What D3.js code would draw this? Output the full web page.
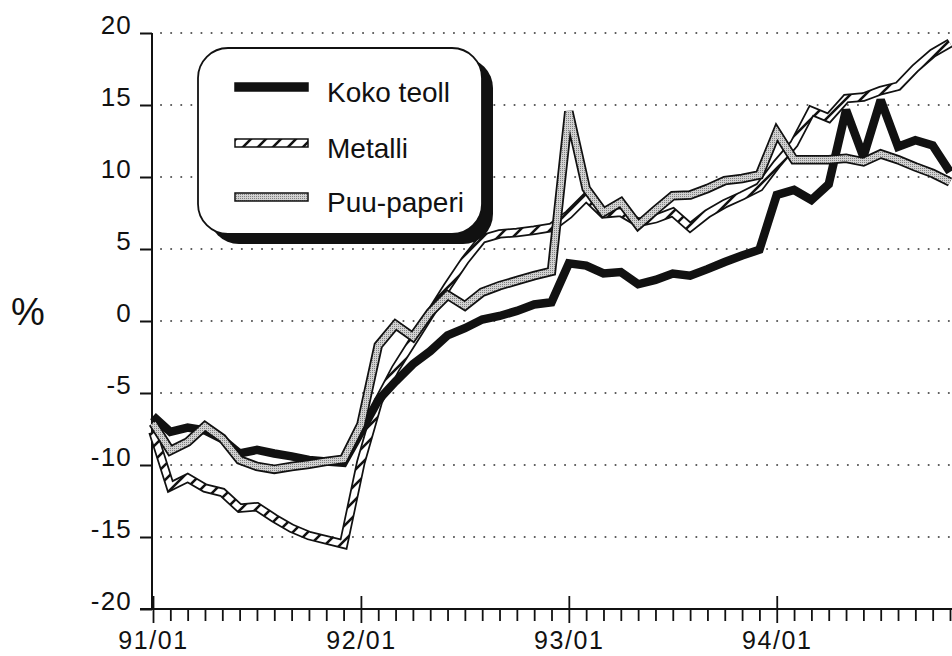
<!DOCTYPE html>
<html><head><meta charset="utf-8">
<script src="https://cdn.jsdelivr.net/npm/d3@7"></script>
<style>
html,body{margin:0;padding:0;background:#fff;}
svg{display:block;}
text{font-family:"Liberation Sans",Arial,Helvetica,sans-serif;fill:#111;}
</style></head><body>
<svg id="chart" width="952" height="656"></svg>
<script>
const months = ["91/01","91/02","91/03","91/04","91/05","91/06","91/07","91/08","91/09","91/10","91/11","91/12",
"92/01","92/02","92/03","92/04","92/05","92/06","92/07","92/08","92/09","92/10","92/11","92/12",
"93/01","93/02","93/03","93/04","93/05","93/06","93/07","93/08","93/09","93/10","93/11","93/12",
"94/01","94/02","94/03","94/04","94/05","94/06","94/07","94/08","94/09","94/10","94/11"];
const tickLabels = ["91/01","92/01","93/01","94/01"];
const yTicks = [-20,-15,-10,-5,0,5,10,15,20];
const seriesNames = ["Koko teoll","Metalli","Puu-paperi"];

const kokoTeoll = [-6.6,-7.7,-7.4,-7.6,-8.2,-9.2,-8.95,-9.2,-9.4,-9.65,-9.75,-9.85,
-7.7,-5.5,-4.2,-3.0,-2.1,-1.0,-0.5,0.1,0.35,0.7,1.15,1.3,
4.0,3.85,3.3,3.4,2.55,2.85,3.3,3.15,3.6,4.1,4.55,4.95,
8.75,9.1,8.4,9.5,14.65,11.4,15.35,12.1,12.55,12.2,10.35];

const metalli = [-7.7,-11.5,-10.9,-11.6,-11.9,-13.0,-12.9,-13.7,-14.4,-14.9,-15.2,-15.5,
-9.8,-5.6,-3.3,-1.4,0.5,2.4,4.2,5.7,6.05,6.15,6.3,6.5,
7.4,8.6,7.45,7.55,6.85,7.1,7.55,6.5,7.45,8.15,8.7,9.3,
10.9,12.3,14.6,14.1,15.45,15.55,16.0,16.3,17.55,18.6,19.3];

const puuPaperi = [-7.1,-9.0,-8.4,-7.3,-8.15,-9.65,-10.1,-10.3,-10.1,-9.95,-9.75,-9.6,
-7.2,-1.7,-0.25,-1.1,0.6,1.8,1.05,2.0,2.45,2.8,3.15,3.45,
14.55,9.2,7.55,8.25,6.65,7.7,8.7,8.75,9.2,9.75,9.9,10.15,
13.1,11.2,11.2,11.2,11.3,11.05,11.6,11.2,10.7,10.25,9.65];

const svg = d3.select("#chart");
const x = d3.scalePoint().domain(months).range([153, 950]);
const y = d3.scaleLinear().domain([-20, 20]).range([609, 33]);

// patterns
const defs = svg.append("defs");
const hatch = defs.append("pattern").attr("id","hatch").attr("patternUnits","userSpaceOnUse")
  .attr("width",15).attr("height",15);
hatch.append("rect").attr("width",15).attr("height",15).attr("fill","#fff");
hatch.append("path").attr("d","M-3,3 L3,-3 M0,15 L15,0 M12,18 L18,12")
  .attr("stroke","#111").attr("stroke-width",2.6);
const stip = defs.append("pattern").attr("id","stip").attr("patternUnits","userSpaceOnUse")
  .attr("width",2).attr("height",2);
stip.append("rect").attr("width",2).attr("height",2).attr("fill","#d2d2d2");
stip.append("rect").attr("width",1).attr("height",1).attr("fill","#808080");

// grid
svg.append("g").selectAll("line").data(yTicks.filter(v => v > -20)).join("line")
  .attr("x1", 161).attr("x2", 952)
  .attr("y1", d => y(d)).attr("y2", d => y(d))
  .attr("stroke", "#555").attr("stroke-width", 2)
  .attr("stroke-linecap","round").attr("stroke-dasharray","0.1,10");

// y axis
const gy = svg.append("g").attr("transform", "translate(152,0)")
  .call(d3.axisLeft(y).tickValues(yTicks).tickSize(12).tickSizeOuter(0).tickFormat(d => String(d)));
gy.select(".domain").remove();
gy.selectAll(".tick line").attr("stroke","#111").attr("stroke-width",2);
gy.selectAll(".tick text").attr("x",-20).attr("dy","0").attr("font-size",26)
  .attr("font-family","'Liberation Sans',Arial,sans-serif").attr("letter-spacing","1.2px").attr("fill","#111");
gy.append("line").attr("x1",0).attr("x2",0).attr("y1",y(20)).attr("y2",y(-20))
  .attr("stroke","#111").attr("stroke-width",2);

// x axis
const gx = svg.append("g").attr("transform", `translate(0,${y(-20)})`)
  .call(d3.axisBottom(x).tickValues(months).tickSize(12).tickSizeOuter(0)
    .tickFormat(d => tickLabels.includes(d) ? d : ""));
gx.select(".domain").remove();
gx.selectAll(".tick line").attr("stroke","#111").attr("stroke-width",1.8);
gx.selectAll(".tick").filter(d => tickLabels.includes(d)).select("line").attr("y1",-13).attr("y2",14);
gx.selectAll(".tick text").attr("y",40).attr("dy","0").attr("font-size",25)
  .attr("font-family","'Liberation Sans',Arial,sans-serif").attr("letter-spacing","1.6px").attr("fill","#111");
gx.append("line").attr("x1",140).attr("x2",952).attr("y1",0).attr("y2",0)
  .attr("stroke","#111").attr("stroke-width",2);

// % label
svg.append("text").attr("x",28).attr("y",325).attr("text-anchor","middle")
  .attr("font-size",38).text("%");

// lines
const line = d3.line().x((d,i) => x(months[i])).y(d => y(d));
const gl = svg.append("g").attr("fill","none").attr("stroke-linejoin","miter").attr("stroke-miterlimit",3);
// Metalli
gl.append("path").attr("d", line(metalli)).attr("stroke","#111").attr("stroke-width",9.5);
gl.append("path").attr("d", line(metalli)).attr("stroke","url(#hatch)").attr("stroke-width",6);
// Koko teoll
gl.append("path").attr("d", line(kokoTeoll)).attr("stroke","#111").attr("stroke-width",8.5);
// Puu-paperi
gl.append("path").attr("d", line(puuPaperi)).attr("stroke","#111").attr("stroke-width",9.5);
gl.append("path").attr("d", line(puuPaperi)).attr("stroke","url(#stip)").attr("stroke-width",6);

// legend
const lg = svg.append("g");
lg.append("rect").attr("x",209).attr("y",58).attr("width",284).attr("height",186).attr("rx",30).attr("fill","#111");
lg.append("rect").attr("x",198).attr("y",48).attr("width",284).attr("height",186).attr("rx",30)
  .attr("fill","#fff").attr("stroke","#111").attr("stroke-width",1.8);
const legY = [87, 143, 197];
const legFill = ["#111", "url(#hatch)", "url(#stip)"];
seriesNames.forEach((name, i) => {
  lg.append("rect").attr("x",235).attr("y",legY[i]-4).attr("width",73).attr("height",8)
    .attr("fill",legFill[i]).attr("stroke","#111").attr("stroke-width",1.5);
  lg.append("text").attr("x",327).attr("y",legY[i]+15).attr("font-size",28).text(name);
});
</script>
</body></html>
